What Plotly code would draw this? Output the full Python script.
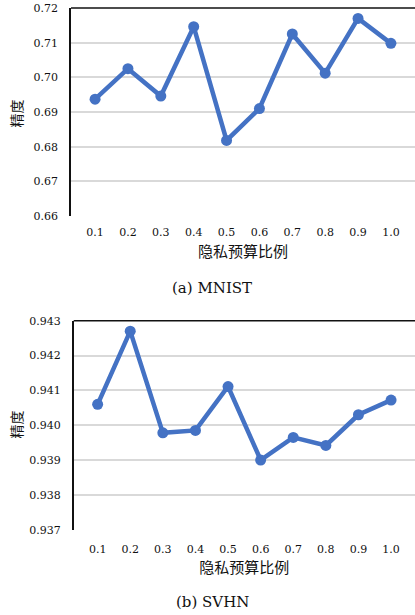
import plotly.graph_objects as go

# Privacy budget ratios (x categories)
ratios = ["0.1", "0.2", "0.3", "0.4", "0.5", "0.6", "0.7", "0.8", "0.9", "1.0"]

# Accuracy on MNIST
mnist_acc = [0.6937, 0.7025, 0.6946, 0.7146, 0.6818, 0.6910, 0.7125, 0.7012, 0.7170, 0.7098]

# Accuracy on SVHN
svhn_acc = [0.94060, 0.94270, 0.93978, 0.93985, 0.94111, 0.93900, 0.93965, 0.93942, 0.94030, 0.94072]

mnist_ticks = [0.66, 0.67, 0.68, 0.69, 0.70, 0.71, 0.72]
svhn_ticks = [0.937, 0.938, 0.939, 0.940, 0.941, 0.942, 0.943]

W, H = 415, 615
BLUE = "#4472C4"
GRID = "#D9D9D9"
SERIF = "DejaVu Serif, Liberation Serif, serif"
CJK = "Noto Sans CJK SC"
INK = "#111"


def py(px):
    """Convert a pixel row (from the top) to paper coordinates."""
    return 1 - px / H


fig = go.Figure()

for acc, xa, ya in ((mnist_acc, "x", "y"), (svhn_acc, "x2", "y2")):
    fig.add_trace(go.Scatter(
        x=ratios, y=acc, mode="lines+markers",
        line=dict(color=BLUE, width=4.5),
        marker=dict(color=BLUE, size=11),
        xaxis=xa, yaxis=ya, showlegend=False,
    ))


def x_axis(domain, anchor, ticklen, standoff):
    return dict(
        type="category", domain=domain, anchor=anchor, automargin=False,
        showgrid=False, zeroline=False, showline=False,
        ticks="outside", ticklen=ticklen, tickcolor="rgba(0,0,0,0)",
        tickfont=dict(family=SERIF, size=11, color=INK),
        title=dict(text="隐私预算比例", font=dict(family=CJK, size=15, color=INK),
                   standoff=standoff),
    )


def y_axis(domain, anchor, rng, ticks, fmt):
    return dict(
        domain=domain, anchor=anchor, range=rng, tickvals=ticks, tickformat=fmt,
        automargin=False,
        showgrid=True, gridcolor=GRID, gridwidth=1.5, zeroline=False,
        showline=True, linecolor=INK, linewidth=1.5,
        ticks="outside", ticklen=9, tickcolor="rgba(0,0,0,0)",
        tickfont=dict(family=SERIF, size=11, color=INK),
    )


fig.update_layout(
    width=W, height=H,
    margin=dict(l=0, r=0, t=0, b=0),
    paper_bgcolor="white", plot_bgcolor="white",
    xaxis=x_axis([71 / W, 1], "y", 6, 8),
    yaxis=y_axis([py(216), py(8)], "x", [0.66, 0.72], mnist_ticks, ".2f"),
    xaxis2=x_axis([73.7 / W, 1], "y2", 9, 7),
    yaxis2=y_axis([py(529.7), py(320.7)], "x2", [0.937, 0.943], svhn_ticks, ".3f"),
)

# Top border line of each plot area
for xr, yr in (("x domain", "y domain"), ("x2 domain", "y2 domain")):
    fig.add_shape(type="line", xref=xr, yref=yr, x0=0, x1=1, y0=1, y1=1,
                  line=dict(color=INK, width=1.5))

# Rotated y-axis titles
for ypx in (114, 425):
    fig.add_annotation(text="精度", x=15.5 / W, y=py(ypx), xref="paper", yref="paper",
                       textangle=-90, showarrow=False,
                       font=dict(family=CJK, size=14, color=INK),
                       xanchor="center", yanchor="middle")

# Sub-figure captions
for text, ypx in (("(a) MNIST", 288), ("(b) SVHN", 601.7)):
    fig.add_annotation(text=text, x=212 / W, y=py(ypx), xref="paper", yref="paper",
                       showarrow=False, font=dict(family=SERIF, size=15, color=INK),
                       xanchor="center", yanchor="middle")

fig.write_html("out.html")
